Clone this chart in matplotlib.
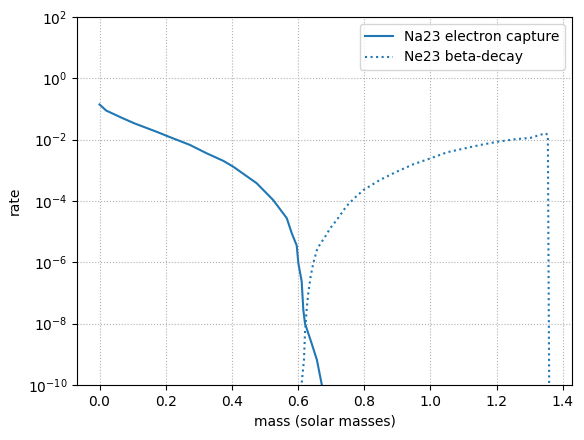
import numpy as np
import matplotlib
matplotlib.use("Agg")
import matplotlib.pyplot as plt

# Na23 electron capture (mass in solar masses, rate)
ec_mass = [0.0, 0.005, 0.02, 0.07, 0.106, 0.172, 0.204, 0.273, 0.323, 0.374,
           0.404, 0.475, 0.495, 0.525, 0.566, 0.581, 0.596, 0.601, 0.611,
           0.616, 0.621, 0.641, 0.657, 0.672, 0.68]
ec_lograte = [-0.85, -0.90, -1.05, -1.30, -1.47, -1.74, -1.88, -2.17, -2.44, -2.69,
              -2.88, -3.42, -3.64, -3.97, -4.56, -5.05, -5.45, -6.03, -6.62,
              -7.55, -7.99, -8.64, -9.18, -10.0, -10.3]

# Ne23 beta-decay
bd_mass = [0.607, 0.611, 0.618, 0.621, 0.626, 0.631, 0.638, 0.646, 0.657, 0.667,
           0.680, 0.697, 0.717, 0.747, 0.773, 0.798, 0.848, 0.899, 0.949, 1.0,
           1.051, 1.101, 1.152, 1.202, 1.253, 1.303, 1.348, 1.355, 1.36]
bd_lograte = [-11.0, -9.95, -9.18, -8.3, -7.55, -7.0, -6.47, -6.03, -5.6, -5.4,
              -5.2, -4.89, -4.62, -4.16, -3.88, -3.64, -3.31, -3.04, -2.80, -2.61,
              -2.41, -2.29, -2.17, -2.07, -1.99, -1.94, -1.79, -1.85, -12.0]

ec_rate = 10.0 ** np.array(ec_lograte)
bd_rate = 10.0 ** np.array(bd_lograte)

fig = plt.figure(figsize=(5.84, 4.4), dpi=100)
ax = fig.add_subplot(111)
ax.semilogy(ec_mass, ec_rate, color="C0", ls="-", label="Na23 electron capture")
ax.semilogy(bd_mass, bd_rate, color="C0", ls=":", label="Ne23 beta-decay")
ax.set_ylim(1e-10, 1e2)
ax.set_xlabel("mass (solar masses)")
ax.set_ylabel("rate")
ax.grid(ls=":")
ax.legend(loc="upper right")
fig.subplots_adjust(left=77 / 584, right=572 / 584, top=1 - 17 / 440, bottom=55 / 440)
fig.savefig("out.png", dpi=100)
